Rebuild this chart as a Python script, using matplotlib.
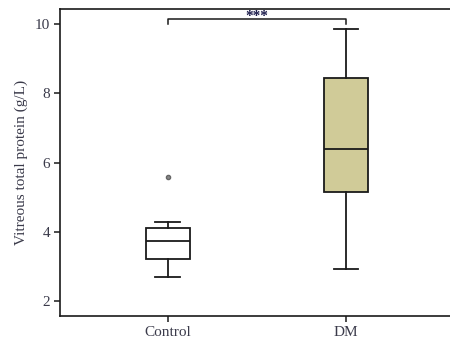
import matplotlib
matplotlib.use("Agg")
import matplotlib.pyplot as plt

plt.rcParams['font.family'] = ['Liberation Serif', 'DejaVu Serif']

groups = ["Control", "DM"]
q1 = [3.22, 5.15]
median = [3.75, 6.40]
q3 = [4.12, 8.46]
whisker_low = [2.70, 2.93]
whisker_high = [4.30, 9.86]
outliers = [[5.60], []]
box_colors = ["white", "#D0CB98"]
yticks = [2, 4, 6, 8, 10]
sig_y = 10.15
sig_label = "***"

text_color = "#3a3a4a"
line_color = "#1a1a1a"

fig = plt.figure(figsize=(4.5, 3.44), dpi=100)
ax = fig.add_axes([0.133, 0.081, 0.867, 0.894])

stats = []
for i, g in enumerate(groups):
    stats.append(dict(label=g, q1=q1[i], med=median[i], q3=q3[i],
                      whislo=whisker_low[i], whishi=whisker_high[i],
                      fliers=outliers[i]))

positions = [1, 2]
bp = ax.bxp(stats, positions=positions, widths=0.25, patch_artist=True,
            showfliers=True,
            boxprops=dict(linewidth=1.3, edgecolor=line_color),
            medianprops=dict(color=line_color, linewidth=1.3),
            whiskerprops=dict(color=line_color, linewidth=1.3),
            capprops=dict(color=line_color, linewidth=1.3),
            capwidths=0.14,
            flierprops=dict(marker="o", markersize=3, markerfacecolor="#888888",
                            markeredgecolor="#666666", linestyle="none"))
for patch, c in zip(bp["boxes"], box_colors):
    patch.set_facecolor(c)

# significance bracket
ax.plot([positions[0], positions[0], positions[1], positions[1]],
        [sig_y - 0.15, sig_y, sig_y, sig_y - 0.15],
        color=line_color, linewidth=1.1, clip_on=False)
ax.text((positions[0] + positions[1]) / 2, sig_y - 0.12, sig_label,
        ha="center", va="bottom", fontsize=11, color="#1a1a4a", fontweight="bold")

ax.set_xlim(0.393, 2.584)
ax.set_ylim(1.57, 10.45)
ax.set_yticks(yticks)
ax.set_xticks(positions)
ax.set_xticklabels(groups)
ax.tick_params(axis="both", direction="out", length=4, width=1.1,
               labelsize=11, colors=line_color, labelcolor=text_color, pad=3)
ax.set_ylabel("Vitreous total protein (g/L)", fontsize=11, color=text_color,
              labelpad=5)

for side in ["left", "top", "bottom"]:
    ax.spines[side].set_linewidth(1.2)
    ax.spines[side].set_color(line_color)
ax.spines["right"].set_visible(False)

fig.savefig("out.png", dpi=100)
